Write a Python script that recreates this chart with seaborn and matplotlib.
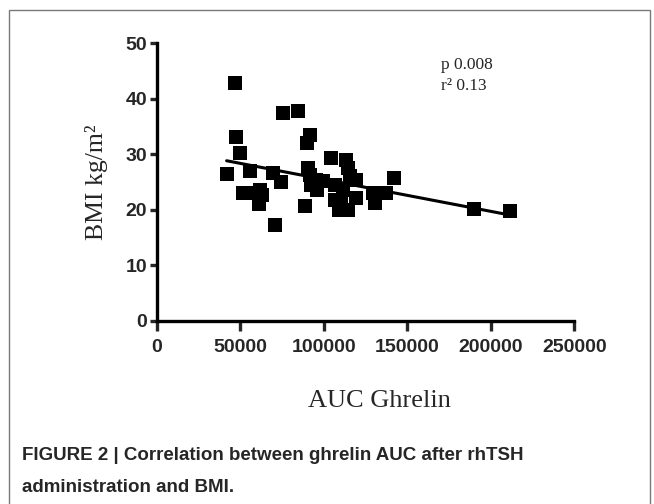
import numpy as np
import pandas as pd
import seaborn as sns
import matplotlib
matplotlib.use('Agg')
import matplotlib.pyplot as plt
from matplotlib.patches import Rectangle

# AUC ghrelin vs BMI
auc = [46750, 47250, 50000, 41750, 55500, 51750, 58000, 61750, 63000, 61000,
       69250, 74250, 71000, 75500, 84250, 91750, 89750, 88750, 90500, 91750,
       92500, 95500, 99250, 104250, 106750, 110000, 113000, 114250, 115500, 119250,
       119250, 109250, 114250, 106750, 111750, 129250, 130500, 137500, 141750, 189750,
       211750, 96000]
bmi = [42.8, 33.1, 30.3, 26.4, 27.0, 23.0, 23.0, 23.6, 22.7, 21.0,
       26.6, 24.9, 17.2, 37.5, 37.8, 33.5, 32.0, 20.6, 27.5, 26.3,
       24.5, 25.4, 25.1, 29.3, 24.5, 21.8, 29.0, 27.5, 26.0, 25.4,
       22.1, 20.0, 20.0, 21.8, 23.6, 23.0, 21.2, 23.0, 25.8, 20.1,
       19.7, 23.6]
x_ticks = [0, 50000, 100000, 150000, 200000, 250000]
y_ticks = [0, 10, 20, 30, 40, 50]

df = pd.DataFrame({'auc': auc, 'bmi': bmi})

sns.set_style('white')
plt.rcParams['font.family'] = ['Liberation Sans', 'DejaVu Sans']

fig = plt.figure(figsize=(6.54, 5.04), dpi=100)
ax = fig.add_axes([0.240, 0.364, 0.638, 0.550])

sns.regplot(data=df, x='auc', y='bmi', ax=ax, ci=None, marker='s',
            scatter_kws={'s': 90, 'color': 'black', 'alpha': 1, 'linewidths': 0},
            line_kws={'color': 'black', 'lw': 2.2})

ax.set_xlim(0, 250000)
ax.set_ylim(0, 50)
ax.set_xticks(x_ticks)
ax.set_yticks(y_ticks)
ax.set_xticklabels([str(t) for t in x_ticks], fontsize=14, fontweight='bold')
ax.set_yticklabels([str(t) for t in y_ticks], fontsize=14, fontweight='bold')
sns.despine(ax=ax)
for s in ['left', 'bottom']:
    ax.spines[s].set_linewidth(2.4)
    ax.spines[s].set_color('black')
ax.tick_params(axis='y', direction='out', length=5, width=2.4, pad=2, left=True)
ax.tick_params(axis='x', direction='out', length=7, width=2.4, pad=6, bottom=True)

ax.set_xlabel('AUC Ghrelin', family='Liberation Serif', fontsize=19)
ax.xaxis.set_label_coords(0.532, -0.25)
ax.set_ylabel('BMI kg/m²', family='Liberation Serif', fontsize=18.5, labelpad=13)

ax.text(0.681, 0.922, 'p 0.008', transform=ax.transAxes, family='Liberation Serif',
        fontsize=12.5, va='center', ha='left')
ax.text(0.681, 0.846, 'r² 0.13', transform=ax.transAxes, family='Liberation Serif',
        fontsize=12.5, va='center', ha='left')

# frame around the figure panel
fig.patches.append(Rectangle((9 / 654, -0.05), 641 / 654, 1.05 - 10 / 504,
                             transform=fig.transFigure, fill=False,
                             edgecolor='#7a7a7a', lw=1.0))

fig.text(22 / 654, 1 - 455 / 504, 'FIGURE 2 | Correlation between ghrelin AUC after rhTSH',
         fontsize=13.5, fontweight='bold', va='center', ha='left')
fig.text(22 / 654, 1 - 488 / 504, 'administration and BMI.',
         fontsize=13.5, fontweight='bold', va='center', ha='left')

fig.savefig('out.png', dpi=100)
